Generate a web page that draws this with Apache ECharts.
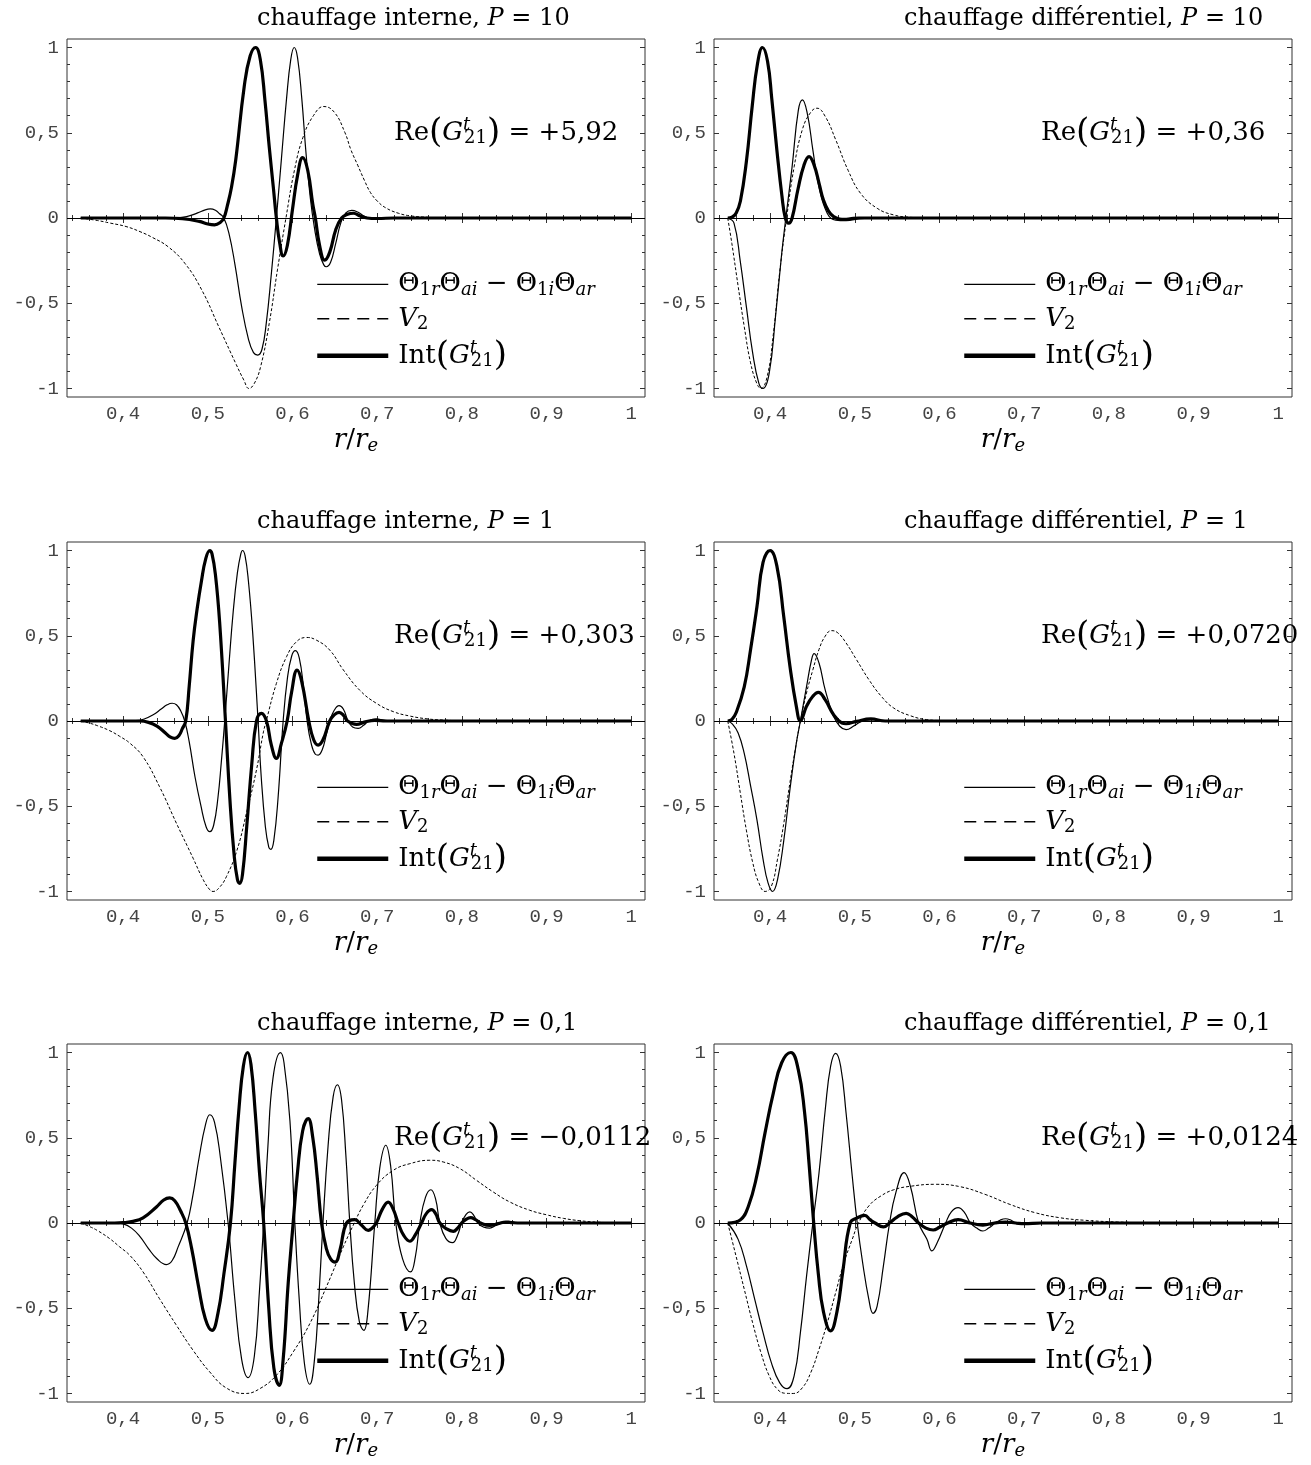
<!DOCTYPE html>
<html>
<head>
<meta charset="utf-8">
<script src="https://cdn.jsdelivr.net/npm/echarts@6/dist/echarts.min.js"></script>
<style>
html,body{margin:0;padding:0;background:#fff;}
#c{width:1311px;height:1465px;}
</style>
</head>
<body>
<div id="c"></div>
<script>
// ---------- tick values and labels ----------
const xMajor = [0.4, 0.5, 0.6, 0.7, 0.8, 0.9, 1];
const xLabels = ['0,4', '0,5', '0,6', '0,7', '0,8', '0,9', '1'];
const xMinor = [0.34,0.36,0.38,0.42,0.44,0.46,0.48,0.52,0.54,0.56,0.58,0.62,0.64,0.66,0.68,0.72,0.74,0.76,0.78,0.82,0.84,0.86,0.88,0.92,0.94,0.96,0.98];
const yMajor = [-1, -0.5, 0, 0.5, 1];
const yLabels = ['-1', '-0,5', '0', '0,5', '1'];
const yMinor = [-0.9,-0.8,-0.7,-0.6,-0.4,-0.3,-0.2,-0.1,0.1,0.2,0.3,0.4,0.6,0.7,0.8,0.9];

// ---------- panel texts ----------
const heating = ['chauffage interne', 'chauffage différentiel'];
const pValues = ['10', '1', '0,1'];
const reValues = ['+5,92', '+0,36', '+0,303', '+0,0720', '−0,0112', '+0,0124'];

// ---------- curves ----------
// A : interne, P = 10
const thetaA = [[0.35,0],[0.46,0],[0.475,0.008],[0.488,0.03],[0.497,0.048],[0.503,0.053],[0.509,0.045],[0.514,0.025],[0.519,0],[0.525,-0.09],[0.532,-0.27],[0.540,-0.52],[0.548,-0.71],[0.554,-0.79],[0.559,-0.804],[0.564,-0.77],[0.569,-0.62],[0.575,-0.33],[0.581,0],[0.587,0.35],[0.593,0.70],[0.598,0.93],[0.602,1.0],[0.606,0.94],[0.611,0.70],[0.616,0.38],[0.621,0.12],[0.626,-0.06],[0.632,-0.21],[0.637,-0.275],[0.640,-0.286],[0.645,-0.26],[0.651,-0.15],[0.657,-0.03],[0.663,0.03],[0.670,0.045],[0.677,0.035],[0.685,0.01],[0.692,-0.004],[0.70,-0.006],[0.71,-0.002],[0.72,0],[1,0]];
const v2A = [[0.35,0],[0.37,-0.015],[0.385,-0.03],[0.4035,-0.05],[0.42,-0.08],[0.435,-0.115],[0.453,-0.168],[0.473,-0.266],[0.493,-0.423],[0.513,-0.638],[0.533,-0.853],[0.5425,-0.95],[0.5486,-1.0],[0.555,-0.97],[0.5625,-0.87],[0.5725,-0.62],[0.5824,-0.30],[0.5923,0.0],[0.6023,0.28],[0.6122,0.47],[0.6247,0.60],[0.637,0.654],[0.6495,0.62],[0.662,0.50],[0.669,0.40],[0.677,0.31],[0.685,0.22],[0.692,0.15],[0.70,0.10],[0.71,0.06],[0.725,0.028],[0.74,0.012],[0.76,0.004],[0.78,0],[1,0]];
const intA = [[0.35,0],[0.45,0],[0.47,-0.004],[0.49,-0.02],[0.500,-0.035],[0.508,-0.04],[0.515,-0.025],[0.519,0],[0.523,0.07],[0.528,0.18],[0.533,0.34],[0.543,0.77],[0.550,0.95],[0.5565,1.0],[0.562,0.93],[0.5675,0.69],[0.5725,0.42],[0.5774,0.18],[0.581,0],[0.585,-0.15],[0.589,-0.223],[0.594,-0.16],[0.600,0.05],[0.606,0.25],[0.612,0.354],[0.618,0.28],[0.624,0.08],[0.627,0],[0.632,-0.16],[0.638,-0.247],[0.644,-0.20],[0.651,-0.07],[0.658,0],[0.665,0.022],[0.672,0.028],[0.680,0.012],[0.688,0],[0.70,-0.003],[0.72,0],[1,0]];

// B : différentiel, P = 10
const thetaB = [[0.35,0],[0.3574,-0.03],[0.3647,-0.25],[0.372,-0.52],[0.3794,-0.79],[0.3868,-0.97],[0.3917,-1.0],[0.399,-0.91],[0.4064,-0.58],[0.4137,-0.21],[0.4186,0],[0.426,0.30],[0.4333,0.63],[0.4382,0.693],[0.4441,0.61],[0.4505,0.40],[0.4578,0.18],[0.4676,0.027],[0.4774,-0.012],[0.4897,-0.015],[0.5068,-0.004],[0.526,0],[1,0]];
const v2B = [[0.35,0],[0.3549,-0.15],[0.3623,-0.40],[0.3696,-0.64],[0.377,-0.85],[0.3843,-0.97],[0.3892,-1.0],[0.3966,-0.93],[0.4039,-0.68],[0.4113,-0.32],[0.4195,0],[0.4284,0.30],[0.4382,0.52],[0.448,0.62],[0.4554,0.644],[0.4652,0.595],[0.4774,0.46],[0.4921,0.28],[0.5068,0.145],[0.5264,0.057],[0.546,0.018],[0.5656,0.004],[0.59,0],[1,0]];
const intB = [[0.35,0],[0.355,0.005],[0.36,0.03],[0.365,0.10],[0.372,0.33],[0.379,0.66],[0.385,0.90],[0.391,1.0],[0.397,0.92],[0.402,0.70],[0.408,0.40],[0.414,0.13],[0.418,0],[0.422,-0.03],[0.426,0],[0.433,0.17],[0.440,0.31],[0.446,0.36],[0.452,0.31],[0.458,0.20],[0.463,0.105],[0.469,0.04],[0.475,0.008],[0.482,-0.006],[0.488,-0.008],[0.496,-0.003],[0.505,0],[1,0]];

// C : interne, P = 1
const thetaC = [[0.35,0],[0.40,0],[0.415,0.002],[0.425,0.012],[0.435,0.035],[0.445,0.07],[0.452,0.095],[0.458,0.104],[0.463,0.095],[0.468,0.06],[0.4728,0],[0.478,-0.12],[0.485,-0.33],[0.492,-0.50],[0.498,-0.62],[0.5024,-0.649],[0.507,-0.61],[0.512,-0.45],[0.516,-0.24],[0.520,0],[0.525,0.33],[0.530,0.64],[0.535,0.87],[0.539,0.98],[0.541,1.0],[0.544,0.97],[0.548,0.82],[0.553,0.52],[0.5594,0],[0.563,-0.32],[0.568,-0.62],[0.572,-0.74],[0.5744,-0.753],[0.578,-0.70],[0.583,-0.45],[0.589,0],[0.594,0.25],[0.599,0.38],[0.6035,0.4125],[0.608,0.37],[0.613,0.20],[0.6173,0],[0.622,-0.13],[0.627,-0.195],[0.6303,-0.20],[0.635,-0.17],[0.640,-0.08],[0.644,0],[0.649,0.06],[0.655,0.09],[0.660,0.07],[0.6657,0],[0.671,-0.035],[0.6776,-0.043],[0.684,-0.025],[0.690,0],[0.699,0.012],[0.708,0.004],[0.72,0],[1,0]];
const v2C = [[0.35,0],[0.36,-0.012],[0.37,-0.028],[0.3843,-0.057],[0.396,-0.09],[0.408,-0.13],[0.4236,-0.21],[0.443,-0.385],[0.463,-0.60],[0.4827,-0.805],[0.4945,-0.93],[0.5024,-0.99],[0.5063,-1.0],[0.514,-0.975],[0.522,-0.913],[0.534,-0.766],[0.5457,-0.54],[0.5575,-0.287],[0.5654,-0.072],[0.569,0],[0.581,0.22],[0.593,0.377],[0.6047,0.465],[0.6165,0.49],[0.628,0.475],[0.644,0.416],[0.66,0.30],[0.6795,0.18],[0.699,0.104],[0.719,0.055],[0.7386,0.029],[0.76,0.012],[0.78,0.005],[0.80,0.001],[0.82,0],[1,0]];
const intC = [[0.35,0],[0.42,0],[0.43,-0.008],[0.44,-0.03],[0.45,-0.07],[0.456,-0.095],[0.461,-0.102],[0.466,-0.085],[0.470,-0.045],[0.474,0],[0.478,0.20],[0.4827,0.47],[0.4875,0.66],[0.4925,0.82],[0.4975,0.95],[0.5024,1.0],[0.505,0.98],[0.509,0.86],[0.514,0.58],[0.5209,0],[0.526,-0.45],[0.531,-0.78],[0.535,-0.93],[0.5378,-0.952],[0.541,-0.90],[0.546,-0.62],[0.552,-0.25],[0.5575,0],[0.5634,0.045],[0.5693,0],[0.575,-0.14],[0.581,-0.219],[0.587,-0.13],[0.5937,0],[0.599,0.17],[0.6055,0.299],[0.611,0.23],[0.6193,0],[0.625,-0.11],[0.6303,-0.141],[0.636,-0.11],[0.644,0],[0.649,0.035],[0.655,0.051],[0.660,0.035],[0.665,0],[0.6756,-0.02],[0.686,-0.005],[0.697,0.004],[0.71,0],[1,0]];

// D : différentiel, P = 1
const thetaD = [[0.35,0],[0.355,-0.015],[0.3623,-0.07],[0.3695,-0.19],[0.377,-0.38],[0.3845,-0.58],[0.3917,-0.81],[0.3976,-0.95],[0.403,-1.0],[0.4088,-0.93],[0.4162,-0.70],[0.4235,-0.40],[0.431,-0.13],[0.4358,0],[0.443,0.20],[0.449,0.36],[0.452,0.395],[0.4578,0.34],[0.465,0.184],[0.475,0.027],[0.4823,-0.031],[0.4897,-0.051],[0.4995,-0.027],[0.5117,0.004],[0.524,0.008],[0.541,0],[1,0]];
const v2D = [[0.35,0],[0.3574,-0.19],[0.3648,-0.42],[0.372,-0.64],[0.3795,-0.83],[0.3868,-0.95],[0.3942,-1.0],[0.4015,-0.97],[0.4088,-0.81],[0.4162,-0.60],[0.4235,-0.36],[0.431,-0.13],[0.4358,0],[0.443,0.164],[0.4505,0.30],[0.4578,0.42],[0.465,0.497],[0.4725,0.53],[0.48,0.517],[0.4897,0.458],[0.502,0.36],[0.5166,0.243],[0.5313,0.145],[0.546,0.076],[0.5656,0.031],[0.585,0.008],[0.605,0.002],[0.625,0],[1,0]];
const intD = [[0.35,0],[0.355,0.01],[0.36,0.05],[0.3695,0.20],[0.377,0.42],[0.3845,0.67],[0.3917,0.93],[0.40,1.0],[0.408,0.91],[0.4162,0.61],[0.4235,0.32],[0.431,0.086],[0.4358,0],[0.443,0.086],[0.4505,0.145],[0.457,0.168],[0.465,0.125],[0.475,0.037],[0.4848,-0.012],[0.4897,-0.016],[0.502,-0.002],[0.519,0.012],[0.536,0],[1,0]];

// E : interne, P = 0,1
const thetaE = [[0.35,0],[0.39,0],[0.40,-0.005],[0.41,-0.03],[0.42,-0.08],[0.43,-0.15],[0.44,-0.21],[0.4512,-0.244],[0.458,-0.22],[0.465,-0.14],[0.4756,0],[0.482,0.15],[0.490,0.39],[0.497,0.57],[0.5024,0.635],[0.508,0.59],[0.515,0.38],[0.524,0],[0.532,-0.45],[0.540,-0.80],[0.5476,-0.907],[0.555,-0.78],[0.561,-0.40],[0.566,0],[0.571,0.45],[0.577,0.85],[0.5858,0.999],[0.590,0.94],[0.597,0.60],[0.6028,0],[0.608,-0.45],[0.614,-0.82],[0.6205,-0.946],[0.626,-0.80],[0.631,-0.45],[0.636,0],[0.642,0.45],[0.648,0.74],[0.6531,0.811],[0.658,0.72],[0.663,0.40],[0.6677,0],[0.673,-0.35],[0.679,-0.58],[0.6843,-0.63],[0.689,-0.52],[0.6972,0],[0.703,0.32],[0.7102,0.456],[0.716,0.33],[0.722,0],[0.730,-0.21],[0.7394,-0.287],[0.745,-0.20],[0.7504,0],[0.757,0.15],[0.7634,0.195],[0.769,0.14],[0.774,0],[0.781,-0.09],[0.789,-0.115],[0.795,-0.07],[0.7996,0],[0.805,0.05],[0.8094,0.065],[0.814,0.045],[0.819,0],[0.826,-0.025],[0.833,-0.03],[0.84,-0.015],[0.847,0],[0.855,0.01],[0.862,0.004],[0.87,0],[1,0]];
const v2E = [[0.35,0],[0.36,-0.02],[0.37,-0.045],[0.3843,-0.092],[0.396,-0.14],[0.408,-0.19],[0.4236,-0.287],[0.443,-0.444],[0.463,-0.60],[0.4827,-0.747],[0.5024,-0.874],[0.522,-0.968],[0.544,-1.0],[0.5614,-0.972],[0.581,-0.893],[0.6008,-0.757],[0.6205,-0.59],[0.64,-0.375],[0.66,-0.14],[0.673,0],[0.6835,0.104],[0.699,0.22],[0.719,0.309],[0.7386,0.348],[0.7622,0.368],[0.778,0.358],[0.7976,0.319],[0.8173,0.25],[0.837,0.182],[0.8567,0.123],[0.88,0.075],[0.90,0.048],[0.92,0.027],[0.94,0.013],[0.96,0.005],[0.98,0.001],[1,0]];
const intE = [[0.35,0],[0.39,0],[0.40,0.002],[0.41,0.008],[0.4236,0.03],[0.4394,0.094],[0.448,0.135],[0.455,0.147],[0.461,0.13],[0.468,0.07],[0.474,0],[0.481,-0.15],[0.489,-0.37],[0.497,-0.56],[0.505,-0.63],[0.512,-0.53],[0.519,-0.30],[0.5268,0],[0.532,0.35],[0.537,0.68],[0.542,0.92],[0.5469,1.0],[0.551,0.93],[0.556,0.65],[0.561,0.30],[0.566,0],[0.572,-0.50],[0.578,-0.85],[0.5843,-0.952],[0.589,-0.80],[0.595,-0.35],[0.6008,0],[0.606,0.30],[0.612,0.54],[0.6185,0.612],[0.624,0.50],[0.629,0.28],[0.6343,0],[0.640,-0.15],[0.645,-0.21],[0.6504,-0.229],[0.656,-0.16],[0.6638,0],[0.6736,0.02],[0.681,-0.01],[0.6894,-0.043],[0.694,-0.03],[0.699,0],[0.706,0.08],[0.713,0.123],[0.719,0.08],[0.7248,0],[0.731,-0.07],[0.7386,-0.107],[0.745,-0.07],[0.7524,0],[0.758,0.055],[0.7642,0.078],[0.769,0.055],[0.774,0],[0.782,-0.035],[0.7898,-0.049],[0.795,-0.03],[0.7996,0],[0.805,0.022],[0.8102,0.031],[0.816,0.02],[0.822,0],[0.833,-0.014],[0.843,-0.004],[0.852,0.006],[0.86,0.002],[0.87,0],[1,0]];

// F : différentiel, P = 0,1
const thetaF = [[0.35,0],[0.3623,-0.096],[0.3721,-0.252],[0.3819,-0.448],[0.3917,-0.643],[0.4015,-0.819],[0.4113,-0.936],[0.4201,-0.972],[0.4284,-0.897],[0.4358,-0.643],[0.4431,-0.31],[0.4505,0],[0.4578,0.295],[0.4652,0.667],[0.4715,0.92],[0.4774,0.995],[0.4833,0.92],[0.4897,0.647],[0.497,0.276],[0.5029,0],[0.5093,-0.233],[0.5166,-0.448],[0.5215,-0.53],[0.5264,-0.487],[0.5338,-0.252],[0.5411,0],[0.5485,0.178],[0.5583,0.295],[0.5656,0.217],[0.5754,0],[0.5852,-0.096],[0.5911,-0.164],[0.5974,-0.115],[0.6073,0],[0.614,0.065],[0.622,0.09],[0.629,0.065],[0.6366,0],[0.644,-0.03],[0.6513,-0.047],[0.658,-0.03],[0.666,0],[0.672,0.018],[0.678,0.025],[0.685,0.015],[0.693,-0.006],[0.71,-0.004],[0.73,0],[1,0]];
const v2F = [[0.35,0],[0.3598,-0.194],[0.3696,-0.39],[0.3794,-0.585],[0.3892,-0.76],[0.399,-0.897],[0.4088,-0.976],[0.4186,-0.999],[0.4274,-1.0],[0.4382,-0.966],[0.448,-0.878],[0.4578,-0.741],[0.4676,-0.585],[0.4774,-0.409],[0.4872,-0.233],[0.497,-0.096],[0.5044,0],[0.5166,0.10],[0.5313,0.16],[0.546,0.195],[0.565,0.215],[0.595,0.227],[0.6244,0.213],[0.6538,0.168],[0.6832,0.109],[0.7126,0.061],[0.742,0.031],[0.7714,0.016],[0.81,0.006],[0.86,0],[1,0]];
const intF = [[0.35,0],[0.3647,0.018],[0.3745,0.10],[0.3843,0.276],[0.3941,0.53],[0.4039,0.764],[0.4137,0.94],[0.4245,1.0],[0.4333,0.90],[0.4407,0.65],[0.446,0.35],[0.4515,0],[0.457,-0.30],[0.463,-0.52],[0.4715,-0.633],[0.479,-0.52],[0.486,-0.28],[0.4946,0],[0.503,0.03],[0.5117,0.045],[0.518,0.02],[0.524,0],[0.5338,-0.023],[0.5411,0],[0.55,0.035],[0.5607,0.057],[0.568,0.035],[0.5754,0],[0.584,-0.03],[0.5926,-0.041],[0.60,-0.025],[0.6097,0],[0.622,0.02],[0.636,0],[0.6513,-0.012],[0.665,0],[0.678,0.006],[0.69,0],[0.70,-0.004],[0.72,0],[1,0]];

// ---------- layout / style constants ----------
const GX = [67, 714], GY = [39, 542, 1044], GW = 578, GH = 358;
const XMIN = 0.3338, XMAX = 1.0162, YMIN = -1.05, YMAX = 1.05;
const ANN_X = 0.720, ANN_Y = 0.5;
const SERIF = 'DejaVu Serif', MONO = 'Liberation Mono';
const FRAME = '#333', LABEL = '#444';

const panelDefs = [
  {col:0,row:0,h:0,p:0,theta:thetaA,v2:v2A,int:intA},
  {col:1,row:0,h:1,p:0,theta:thetaB,v2:v2B,int:intB},
  {col:0,row:1,h:0,p:1,theta:thetaC,v2:v2C,int:intC},
  {col:1,row:1,h:1,p:1,theta:thetaD,v2:v2D,int:intD},
  {col:0,row:2,h:0,p:2,theta:thetaE,v2:v2E,int:intE},
  {col:1,row:2,h:1,p:2,theta:thetaF,v2:v2F,int:intF}
];

const RICH = {
  n:  {fontFamily: SERIF, fontSize: 26, color: '#000'},
  i:  {fontFamily: SERIF, fontSize: 26, fontStyle: 'italic', color: '#000'},
  s:  {fontFamily: SERIF, fontSize: 18, color: '#000', padding: [12, 0, 0, 0]},
  si: {fontFamily: SERIF, fontSize: 18, fontStyle: 'italic', color: '#000', padding: [12, 0, 0, 0]},
  t:  {fontFamily: SERIF, fontSize: 18, fontStyle: 'italic', color: '#000', padding: [0, 0, 14, 0], width: 1},
  p:  {fontFamily: SERIF, fontSize: 34, color: '#000'}
};
const LEG = {
  theta: 'Θ{s|1}{si|r}Θ{si|ai} − Θ{s|1}{si|i}Θ{si|ar}',
  v2: '{i|V}{s|2}',
  int: 'Int{p|(}{i|G}{t|t}{s|21}{p|)}'
};
function fmt(ticks, labels) {
  return function (v) {
    const k = ticks.findIndex(t => Math.abs(t - v) < 1e-6);
    return k >= 0 ? labels[k] : '';
  };
}

const grid = [], xAxis = [], yAxis = [], series = [], legend = [], title = [];
panelDefs.forEach((d, g) => {
  const gx = GX[d.col], gy = GY[d.row];
  grid.push({left: gx, top: gy, width: GW, height: GH, show: true, borderColor: FRAME, borderWidth: 1, backgroundColor: 'transparent'});
  const xb = {type: 'value', gridIndex: g, min: XMIN, max: XMAX, splitLine: {show: false}, axisLine: {show: false}};
  const yb = {type: 'value', gridIndex: g, min: YMIN, max: YMAX, splitLine: {show: false}, axisLine: {show: false}};
  const tk = (vals, len) => ({show: true, inside: true, length: len, customValues: vals, lineStyle: {color: FRAME, width: 1}});
  const xi = xAxis.length, yi = yAxis.length;
  xAxis.push(Object.assign({}, xb, {position: 'bottom', axisTick: tk(xMajor, 5),
    axisLabel: {show: true, customValues: xMajor, formatter: fmt(xMajor, xLabels), margin: 7, fontFamily: MONO, fontSize: 19, color: LABEL},
    name: '{i|r}/{i|r}{si|e}', nameLocation: 'middle', nameGap: 28,
    nameTextStyle: {fontFamily: SERIF, fontSize: 26, color: '#000', rich: RICH}}));
  xAxis.push(Object.assign({}, xb, {position: 'bottom', axisTick: tk(xMinor, 3), axisLabel: {show: false}}));
  xAxis.push(Object.assign({}, xb, {position: 'top', axisTick: tk(xMajor, 5), axisLabel: {show: false}}));
  xAxis.push(Object.assign({}, xb, {position: 'top', axisTick: tk(xMinor, 3), axisLabel: {show: false}}));
  yAxis.push(Object.assign({}, yb, {position: 'left', axisTick: tk(yMajor, 5),
    axisLabel: {show: true, customValues: yMajor, formatter: fmt(yMajor, yLabels), margin: 8, fontFamily: MONO, fontSize: 19, color: LABEL}}));
  yAxis.push(Object.assign({}, yb, {position: 'left', axisTick: tk(yMinor, 3), axisLabel: {show: false}}));
  yAxis.push(Object.assign({}, yb, {position: 'right', axisTick: tk(yMajor, 5), axisLabel: {show: false}}));
  yAxis.push(Object.assign({}, yb, {position: 'right', axisTick: tk(yMinor, 3), axisLabel: {show: false}}));

  const common = {type: 'line', xAxisIndex: xi, yAxisIndex: yi, symbol: 'none', smooth: 0.45, silent: true, animation: false};
  series.push(Object.assign({}, common, {name: 'theta', data: d.theta, z: 3,
    lineStyle: {color: '#000', width: 1.2, join: 'round'},
    markLine: {silent: true, symbol: ['none', 'none'], animation: false, label: {show: false},
      lineStyle: {color: '#000', width: 1, type: 'solid'}, data: [{yAxis: 0}]}}));
  series.push(Object.assign({}, common, {name: 'v2', data: d.v2, z: 2,
    lineStyle: {color: '#000', width: 1, type: [3, 2]}}));
  series.push(Object.assign({}, common, {name: 'int', data: d.int, z: 4,
    lineStyle: {color: '#000', width: 3.2, join: 'round'}}));
  series.push({type: 'scatter', xAxisIndex: xi, yAxisIndex: yi, silent: true, animation: false, symbolSize: 0,
    itemStyle: {opacity: 1, color: '#000'},
    data: [[ANN_X, ANN_Y]], z: 5,
    label: {show: true, position: 'right', distance: 0, align: 'left', verticalAlign: 'middle', opacity: 1,
      fontFamily: SERIF, fontSize: 26, color: '#000', rich: RICH,
      formatter: () => 'Re{p|(}{i|G}{t|t}{s|21}{p|)} = ' + reValues[g]}});

  legend.push({left: gx + 248, top: gy + 231, orient: 'vertical', padding: 0, itemGap: 5,
    itemWidth: 71, itemHeight: 36, selectedMode: false,
    itemStyle: {opacity: 0},
    data: [{name: 'theta', lineStyle: {width: 1.4}}, {name: 'v2', lineStyle: {type: [12, 8], width: 1.4}}, {name: 'int', lineStyle: {width: 4.5}}],
    formatter: n => LEG[n],
    textStyle: {fontFamily: SERIF, fontSize: 26, color: '#000', padding: [0, 0, 0, 5], rich: RICH}});

  title.push({left: gx + 190, top: gy - 34, padding: 0,
    text: heating[d.h] + ', {i|P} = ' + pValues[d.p],
    textStyle: {fontFamily: SERIF, fontSize: 24, fontWeight: 'normal', color: '#000', lineHeight: 28,
      rich: {i: {fontFamily: SERIF, fontSize: 24, fontStyle: 'italic', color: '#000', lineHeight: 28}}}});
});

const chart = echarts.init(document.getElementById('c'), null, {renderer: 'canvas'});
chart.setOption({backgroundColor: '#fff', animation: false, title, grid, xAxis, yAxis, series, legend});
</script>
</body>
</html>
